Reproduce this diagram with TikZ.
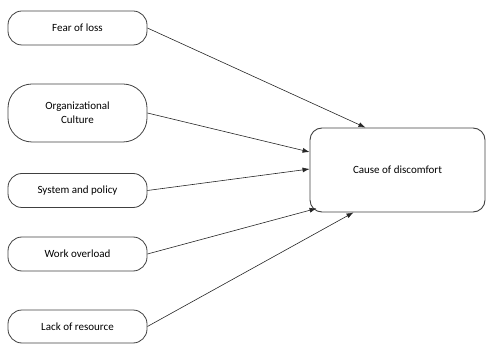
\documentclass[tikz,border=0pt]{standalone}
\usepackage{fontspec}
\setmainfont{Carlito}
\usetikzlibrary{calc,arrows.meta}
\begin{document}
\begin{tikzpicture}[x=1pt,y=1pt,
  leftbox/.style={draw=black!75, line width=0.8pt, rounded corners=14pt, minimum width=139pt, minimum height=34pt, inner sep=0pt, align=center, font=\fontsize{11}{14}\selectfont},
  bigbox/.style={draw=black!75, line width=0.9pt, rounded corners=12pt, minimum width=175pt, minimum height=84pt, inner sep=0pt, font=\fontsize{11}{14}\selectfont},
  conn/.style={draw=black!85, line width=0.6pt, -{Latex[length=7pt,width=5pt]}}]
\useasboundingbox (0,0) rectangle (486,345);
\node[leftbox] (fear) at (77.5,317) {Fear of loss};
\node[leftbox, minimum height=58pt, rounded corners=24pt] (org) at (77.5,232) {Organizational\\Culture};
\node[leftbox] (sys) at (77.5,154.5) {System and policy};
\node[leftbox] (work) at (77.5,91) {Work overload};
\node[leftbox, minimum height=33pt] (lack) at (77.5,18.5) {Lack of resource};
\node[bigbox] (cause) at (397.5,175) {Cause of discomfort};
\draw[conn] (fear.east) -- ($(cause.north)+(-32,0)$);
\draw[conn] (org.east) -- ($(cause.west)+(0,18)$);
\draw[conn] (sys.east) -- ($(cause.west)+(0,1)$);
\draw[conn] (work.east) -- ($(cause.south west)+(7,4)$);
\draw[conn] (lack.east) -- ($(cause.south)+(-44,0)$);
\end{tikzpicture}
\end{document}
